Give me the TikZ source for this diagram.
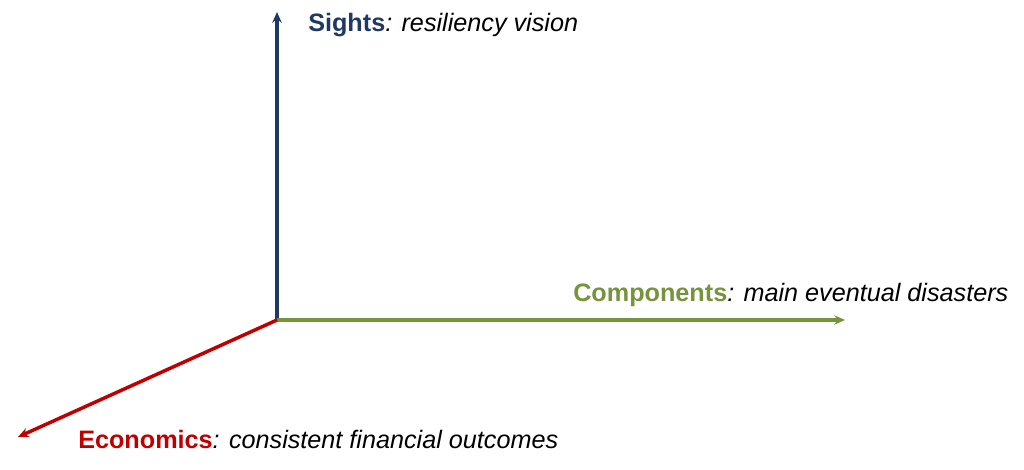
\documentclass[tikz,border=0pt]{standalone}
\usepackage{fontspec}
\setmainfont{Liberation Sans}
\usetikzlibrary{arrows.meta}
\definecolor{cblue}{HTML}{1F3864}
\definecolor{cgreen}{HTML}{77933C}
\definecolor{cred}{HTML}{C00000}
\begin{document}
\begin{tikzpicture}[x=0.75pt,y=-0.75pt,
  ax/.style={line width=2.6pt,-{Stealth[length=8pt,width=7pt]}},
  lbl/.style={anchor=west,inner sep=0pt,font=\fontsize{18.9}{22}\selectfont}]
\useasboundingbox (0,0) rectangle (1024,470);
\coordinate (o) at (277,320);
\coordinate (s) at (277,12);
\coordinate (c) at (845,320);
\coordinate (e) at (18,437);
\draw[ax,cblue] (o) -- (s);
\draw[ax,cgreen] (o) -- (c);
\draw[ax,cred] (o) -- (e);
\node[lbl] (ls) at (308,25) {\textcolor{cblue}{\textbf{Sights}}\textit{: resiliency vision}};
\node[lbl] (lc) at (573,295) {\textcolor{cgreen}{\textbf{Components}}\textit{: main eventual disasters}};
\node[lbl] (le) at (78,439) {\textcolor{cred}{\textbf{Economics}}\textit{: consistent financial outcomes}};
\end{tikzpicture}
\end{document}
